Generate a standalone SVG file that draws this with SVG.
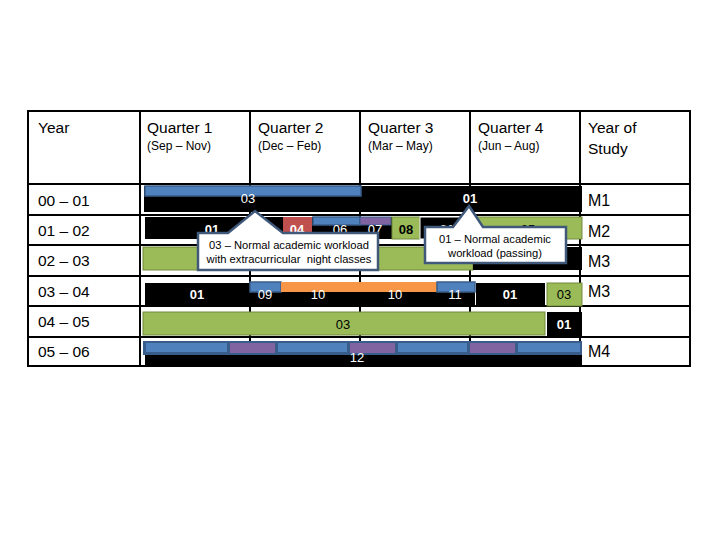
<svg xmlns="http://www.w3.org/2000/svg" width="720" height="540" viewBox="0 0 720 540">
<style>
.grid{stroke:#000;stroke-width:2;fill:none}
.hd{font-family:"Liberation Sans",Arial,sans-serif;font-size:15.5px;fill:#000}
.sub{font-family:"Liberation Sans",Arial,sans-serif;font-size:12px;fill:#000}
.lab{font-family:"Liberation Sans",Arial,sans-serif;font-size:15.5px;fill:#000}
.m{font-family:"Liberation Sans",Arial,sans-serif;font-size:16px;fill:#000}
.bt{font-family:"Liberation Sans",Arial,sans-serif;font-size:13px;text-anchor:middle}
.w{fill:#fff}
.k{fill:#000}
.b{font-weight:bold}
.blk{fill:#000}
.blu{fill:#4F81BD;stroke:#385D8A;stroke-width:1.5}
.pur{fill:#8064A2}
.red{fill:#C0504D}
.grn{fill:#9BBB59;stroke:#71893F;stroke-width:1}
.org{fill:#F79646}
.co{fill:#fff;stroke:#40587A;stroke-width:2.5;stroke-linejoin:miter}
.ct{font-family:"Liberation Sans",Arial,sans-serif;font-size:11.2px;fill:#000;text-anchor:middle;white-space:pre}
</style>
<rect width="720" height="540" fill="#fff"/>
<g id="grid">
<rect class="grid" x="28" y="111" width="662" height="255"/>
<path class="grid" d="M140 111V366M250 111V366M360 111V366M470 111V366M580 111V366M28 184H690M28 215H690M28 245H690M28 276H690M28 306H690M28 337H690"/>
</g>
<g id="headers">
<text class="hd" x="38" y="133">Year</text>
<text class="hd" x="147" y="133">Quarter 1</text>
<text class="sub" x="147" y="150">(Sep – Nov)</text>
<text class="hd" x="258" y="133">Quarter 2</text>
<text class="sub" x="258" y="150">(Dec – Feb)</text>
<text class="hd" x="368" y="133">Quarter 3</text>
<text class="sub" x="368" y="150">(Mar – May)</text>
<text class="hd" x="478" y="133">Quarter 4</text>
<text class="sub" x="478" y="150">(Jun – Aug)</text>
<text class="hd" x="588" y="133">Year of</text>
<text class="hd" x="588" y="154">Study</text>
</g>
<g id="rowlabels">
<text class="lab" x="38" y="206">00 – 01</text>
<text class="lab" x="38" y="236">01 – 02</text>
<text class="lab" x="38" y="266">02 – 03</text>
<text class="lab" x="38" y="297">03 – 04</text>
<text class="lab" x="38" y="327">04 – 05</text>
<text class="lab" x="38" y="357">05 – 06</text>
<text class="m" x="588" y="206">M1</text>
<text class="m" x="588" y="237">M2</text>
<text class="m" x="588" y="267">M3</text>
<text class="m" x="588" y="297">M3</text>
<text class="m" x="588" y="357">M4</text>
</g>
<g id="row1">
<rect class="blk" x="144" y="186" width="438" height="26"/>
<rect class="blu" x="145" y="186" width="216" height="10"/>
<text class="bt w" x="248" y="203">03</text>
<text class="bt w b" x="470" y="203">01</text>
</g>
<g id="row2">
<rect class="blk" x="145" y="217" width="247" height="22"/>
<rect class="red" x="283" y="217" width="29" height="21"/>
<rect class="blu" x="313" y="217" width="47" height="8"/>
<rect class="pur" x="360" y="217" width="31" height="8" stroke="#385D8A" stroke-width="1"/>
<rect class="grn" x="392" y="217" width="28" height="22"/>
<rect class="blk" x="420" y="217" width="56" height="22" stroke="#fff" stroke-width="1"/>
<rect class="grn" x="476" y="217" width="106" height="22"/>
<text class="bt w b" x="212" y="234">01</text>
<text class="bt w b" x="297" y="234">04</text>
<text class="bt w" x="340" y="234">06</text>
<text class="bt w" x="375" y="234">07</text>
<text class="bt k b" x="406" y="234">08</text>
<text class="bt w b" x="447" y="234">01</text>
<text class="bt k" x="528" y="234">05</text>
</g>
<g id="row3">
<rect class="grn" x="143" y="247" width="330" height="23"/>
<rect class="blk" x="473" y="247" width="109" height="23"/>
</g>
<g id="row4">
<rect class="blk" x="145" y="283" width="330" height="22"/>
<rect class="blu" x="250" y="282" width="31" height="10"/>
<rect class="org" x="281" y="282" width="156" height="10"/>
<rect class="blu" x="437" y="282" width="38" height="10"/>
<rect class="blk" x="476" y="283" width="69" height="22"/>
<rect class="grn" x="547" y="283" width="35" height="23"/>
<text class="bt w b" x="197" y="299">01</text>
<text class="bt w" x="265" y="299">09</text>
<text class="bt w" x="318" y="299">10</text>
<text class="bt w" x="395" y="299">10</text>
<text class="bt w" x="455" y="299">11</text>
<text class="bt w b" x="510" y="299">01</text>
<text class="bt k" x="564" y="299">03</text>
</g>
<g id="row5">
<rect class="grn" x="143" y="312" width="402" height="23"/>
<rect class="blk" x="547" y="312" width="35" height="24"/>
<text class="bt k" x="343" y="329">03</text>
<text class="bt w b" x="564" y="329">01</text>
</g>
<g id="row6">
<rect class="blk" x="145" y="350" width="437" height="17"/>
<rect x="143" y="341" width="439" height="14" fill="#385D8A"/>
<rect x="146" y="343" width="81" height="9" fill="#4F81BD"/>
<rect class="pur" x="230" y="343" width="45" height="10"/>
<rect x="278" y="343" width="69" height="9" fill="#4F81BD"/>
<rect class="pur" x="350" y="343" width="45" height="10"/>
<rect x="398" y="343" width="69" height="9" fill="#4F81BD"/>
<rect class="pur" x="470" y="343" width="45" height="10"/>
<rect x="518" y="343" width="62" height="9" fill="#4F81BD"/>
<text class="bt w" x="357" y="362">12</text>
</g>
<g id="callout1">
<path class="co" d="M198 233H228L255 211L283 233H378V270H198Z"/>
<text class="ct" x="289" y="249">03 – Normal academic workload</text>
<text class="ct" x="289" y="263" xml:space="preserve">with extracurricular  night classes</text>
</g>
<g id="callout2">
<path class="co" d="M425 227H453L469 206L483 227H566V263H425Z"/>
<text class="ct" x="495" y="243">01 – Normal academic</text>
<text class="ct" x="495" y="257">workload (passing)</text>
</g>
</svg>
